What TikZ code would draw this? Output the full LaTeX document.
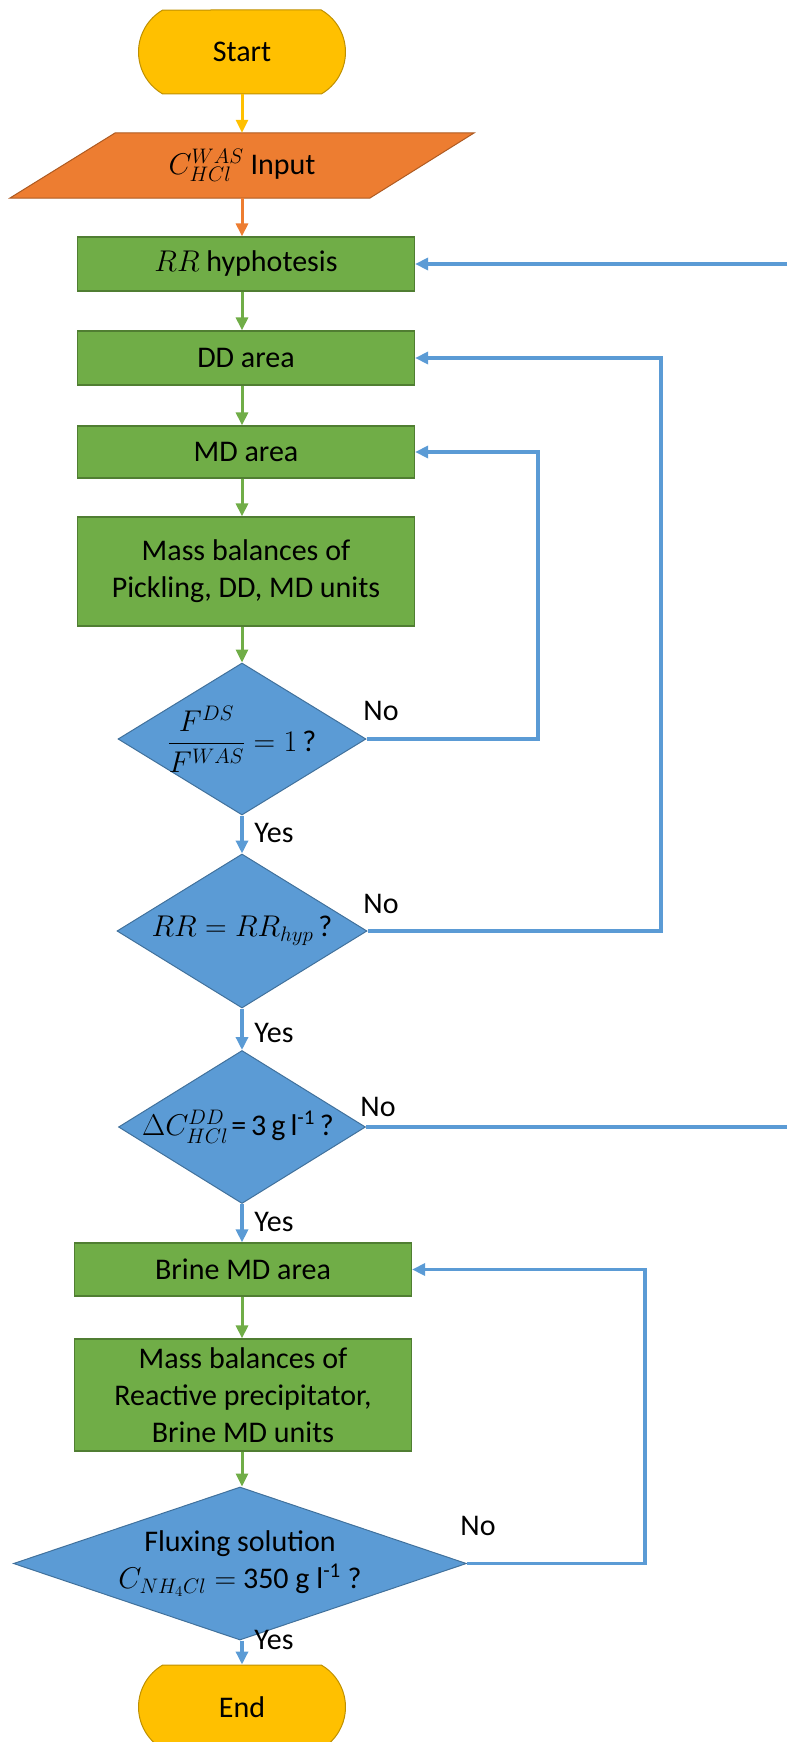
\documentclass[tikz,border=0pt]{standalone}
\usepackage{fix-cm}
\usepackage{amsmath}
\usepackage{fontspec}
\setmainfont{Carlito}
\usetikzlibrary{shapes.geometric,shapes.misc,arrows.meta,calc}
\definecolor{yfill}{HTML}{FFC000}
\definecolor{ydraw}{HTML}{BF9000}
\definecolor{ofill}{HTML}{ED7D31}
\definecolor{odraw}{HTML}{AE5A21}
\definecolor{gfill}{HTML}{70AD47}
\definecolor{gdraw}{HTML}{507E32}
\definecolor{bfill}{HTML}{5B9BD5}
\definecolor{bdraw}{HTML}{41719C}
\begin{document}
\begin{tikzpicture}[x=1pt,y=-1pt,
  font=\fontsize{30}{37}\selectfont,
  term/.style={rounded rectangle, rounded rectangle arc length=120, fill=yfill, draw=ydraw, line width=1pt, minimum width=207pt, minimum height=84pt, inner sep=0},
  gbox/.style={rectangle, fill=gfill, draw=gdraw, line width=1.2pt, minimum width=337pt, inner sep=0, align=center},
  dmd/.style={diamond, fill=bfill, draw=bdraw, line width=1pt, inner sep=0},
  txt/.style={inner sep=0, align=center},
  lbl/.style={inner sep=0},
  tip/.style={-{Triangle[length=13pt,width=12pt]}},
  yarr/.style={tip, draw=yfill, line width=3pt},
  oarr/.style={tip, draw=ofill, line width=3pt},
  garr/.style={tip, draw=gfill, line width=3pt},
  barr/.style={tip, draw=bfill, line width=3.8pt},
  bline/.style={draw=bfill, line width=3.8pt},
]
\useasboundingbox (0,0) rectangle (787,1742);
\clip (0,0) rectangle (787,1742);

% nodes
\node[term] (start) at (242,52) {Start};
\node[txt, minimum width=360pt, minimum height=65pt] (inp) at (242,165.5) {};
\fill[ofill, draw=odraw, line width=1pt] (10,198) -- (370,198) -- (474,133) -- (115,133) -- cycle;
\node[txt] (inptxt) at (inp) {$C_{HCl}^{WAS}$ Input};
\node[gbox, minimum height=54pt] (rr) at (246,264) {$RR$ hyphotesis};
\node[gbox, minimum height=54pt] (dd) at (246,358) {DD area};
\node[gbox, minimum height=52pt] (md) at (246,452) {MD area};
\node[gbox, minimum height=109pt] (mb) at (246,571.5) {Mass balances of\\Pickling, DD, MD units};

\node[dmd, minimum width=248pt, minimum height=152pt] (d1) at (242,739) {};
\node[txt] (d1t) at (d1) {$\dfrac{F^{DS}}{F^{WAS}}=1\,$?};
\node[dmd, minimum width=250pt, minimum height=154pt] (d2) at (242,931) {};
\node[txt] (d2t) at (d2) {$RR=RR_{hyp}\,$?};
\node[dmd, minimum width=247pt, minimum height=153pt] (d3) at (242,1127) {};
\node[txt] (d3t) at ([xshift=-4pt]d3.center) {$\Delta C_{HCl}^{DD}$\hspace{3pt}=\hspace{5pt}3\hspace{5pt}g\hspace{5pt}l\textsuperscript{-1}\hspace{5pt}?};

\node[gbox, minimum height=53pt] (bmd) at (243,1269.5) {Brine MD area};
\node[gbox, minimum height=112pt] (mb2) at (243,1395) {Mass balances of\\Reactive precipitator,\\Brine MD units};
\node[dmd, minimum width=453pt, minimum height=153pt] (d4) at (240,1563.5) {};
\node[txt] (d4t) at (d4) {Fluxing solution\\$C_{NH_4Cl}=$ 350 g l\textsuperscript{-1} ?};
\node[term] (end) at (242,1707) {End};

% main flow
\draw[yarr] (start.south) -- (inp.north);
\draw[oarr] (inp.south) -- (rr.north -| inp.south);
\draw[garr] (rr.south -| inp.south) -- (dd.north -| inp.south);
\draw[garr] (dd.south -| inp.south) -- (md.north -| inp.south);
\draw[garr] (md.south -| inp.south) -- (mb.north -| inp.south);
\draw[garr] (mb.south -| inp.south) -- (d1.north);
\draw[barr] (d1.south) -- (d2.north);
\draw[barr] (d2.south) -- (d3.north);
\draw[barr] (d3.south) -- (bmd.north -| d3.south);
\draw[garr] (bmd.south -| d3.south) -- (mb2.north -| d3.south);
\draw[garr] (mb2.south -| d3.south) -- (d4.north -| d3.south);
\draw[barr] (d4.south -| d3.south) -- (end.north);

% feedback loops
\draw[barr] (d1.east) -- (538,739) |- (md.east);
\draw[barr] (d2.east) -- (661,931) |- (dd.east);
\draw[barr] (d4.east) -- (645,1563.5) |- (bmd.east);
\coordinate (edgeA) at (787,264);
\coordinate (edgeB) at (787,1127);
\draw[barr] (edgeA) -- (rr.east);
\draw[bline] (d3.east) -- (edgeB);

% labels
\node[lbl] (no1) at (381,711) {No};
\node[lbl] (yes1) at (274,833) {Yes};
\node[lbl] (no2) at (381,904) {No};
\node[lbl] (yes2) at (274,1033) {Yes};
\node[lbl] (no3) at (378,1107) {No};
\node[lbl] (yes3) at (274,1222) {Yes};
\node[lbl] (no4) at (478,1526) {No};
\node[lbl] (yes4) at (274,1640) {Yes};
\end{tikzpicture}
\end{document}
